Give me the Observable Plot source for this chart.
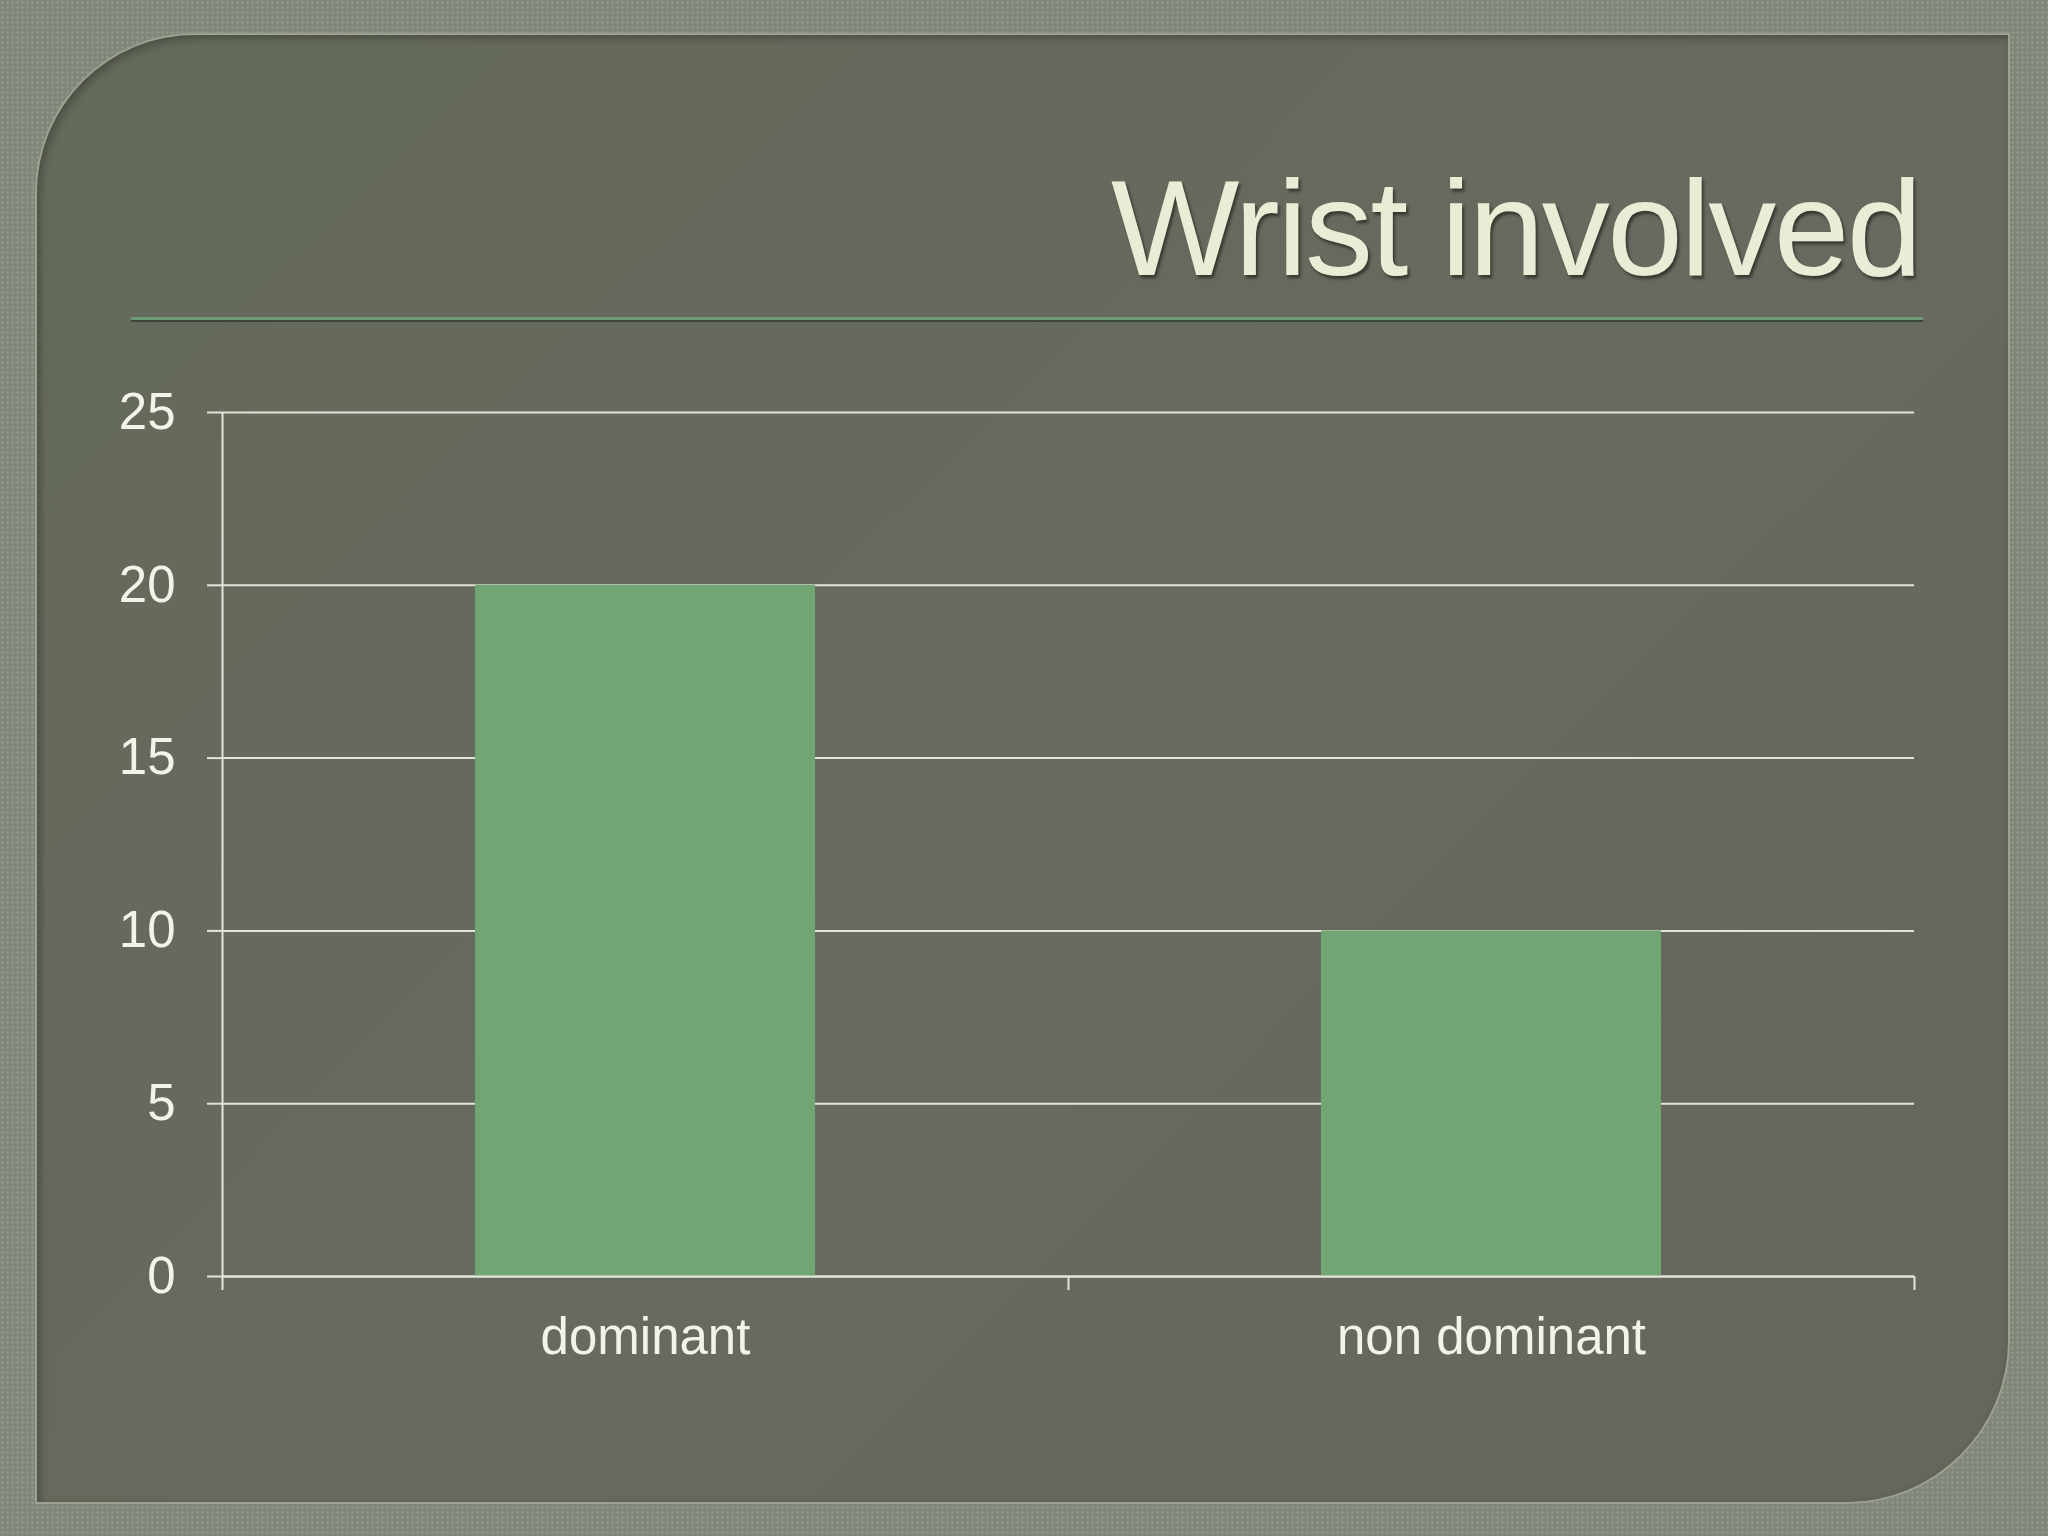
<!DOCTYPE html>
<html>
<head>
<meta charset="utf-8">
<script src="https://cdn.jsdelivr.net/npm/d3@7"></script>
<script src="https://cdn.jsdelivr.net/npm/@observablehq/plot@0.6"></script>
<style>
  html, body { margin: 0; padding: 0; }
  body {
    width: 2048px; height: 1536px; overflow: hidden; position: relative;
    background-color: #81887a;
    background-image: radial-gradient(rgba(255,255,255,0.13) 1px, transparent 1.2px);
    background-size: 5px 5px;
    font-family: "Liberation Sans", Arial, sans-serif;
  }
  #panel {
    position: absolute; left: 37px; top: 35px; width: 1971px; height: 1467px;
    border-radius: 158px 0 162px 0;
    background: linear-gradient(135deg, #646a5a 0%, #676a5e 55%, #66665c 100%);
    box-shadow: 0 0 0 2px #9ca28f, inset 3px 3px 8px rgba(0,0,0,0.28);
  }
  #title {
    position: absolute; right: 128px; top: 160px; line-height: 1;
    font-size: 136px; letter-spacing: -2.5px; color: #eaedd6;
    text-shadow: 2px 3px 3px rgba(20,24,16,0.6);
    white-space: nowrap;
  }
  #rule {
    position: absolute; left: 131px; top: 317px; width: 1792px; height: 3px;
    background: #6c9c76; border-bottom: 2px solid #3b473a;
  }
  #chart { position: absolute; left: 0; top: 380px; }
</style>
</head>
<body>
<div id="panel"></div>
<div id="title">Wrist involved</div>
<div id="rule"></div>
<div id="chart"></div>
<script>
const categories = ["dominant", "non dominant"];
const values = [20, 10];
const yTicks = [0, 5, 10, 15, 20, 25];
const boundaryTicks = [0, 1, 2];

const data = categories.map((c, i) => ({category: c, index: i, value: values[i]}));
const lineColor = "#e4e5da";

const chart = Plot.plot({
  width: 2048,
  height: 1020,
  marginTop: 32,
  marginBottom: 124,
  marginLeft: 222,
  marginRight: 134,
  style: {background: "transparent", color: "#f3f3ea", fontFamily: "Liberation Sans, Arial, sans-serif", overflow: "visible"},
  x: {domain: [0, categories.length], axis: null},
  y: {domain: [0, 25], axis: null},
  marks: [
    Plot.gridY(yTicks, {stroke: lineColor, strokeOpacity: 1, strokeWidth: 2}),
    Plot.rectY(data, {x1: "index", x2: d => d.index + 1, y: "value", fill: "#71a573", insetLeft: 253, insetRight: 253}),
    Plot.ruleY([0], {stroke: lineColor, strokeWidth: 2}),
    Plot.ruleX([0], {stroke: lineColor, strokeWidth: 2}),
    Plot.axisY(yTicks, {tickSize: 15, tickPadding: 32, fontSize: 51, stroke: lineColor, strokeWidth: 2, fill: "#f3f3ea", label: null}),
    Plot.axisX(boundaryTicks, {tickSize: 14, tickFormat: () => "", stroke: lineColor, strokeWidth: 2, label: null}),
    Plot.text(data, {x: d => d.index + 0.5, y: 0, dy: 61, text: "category", fontSize: 51, fill: "#f3f3ea"})
  ]
});
document.getElementById("chart").appendChild(chart);
</script>
</body>
</html>
